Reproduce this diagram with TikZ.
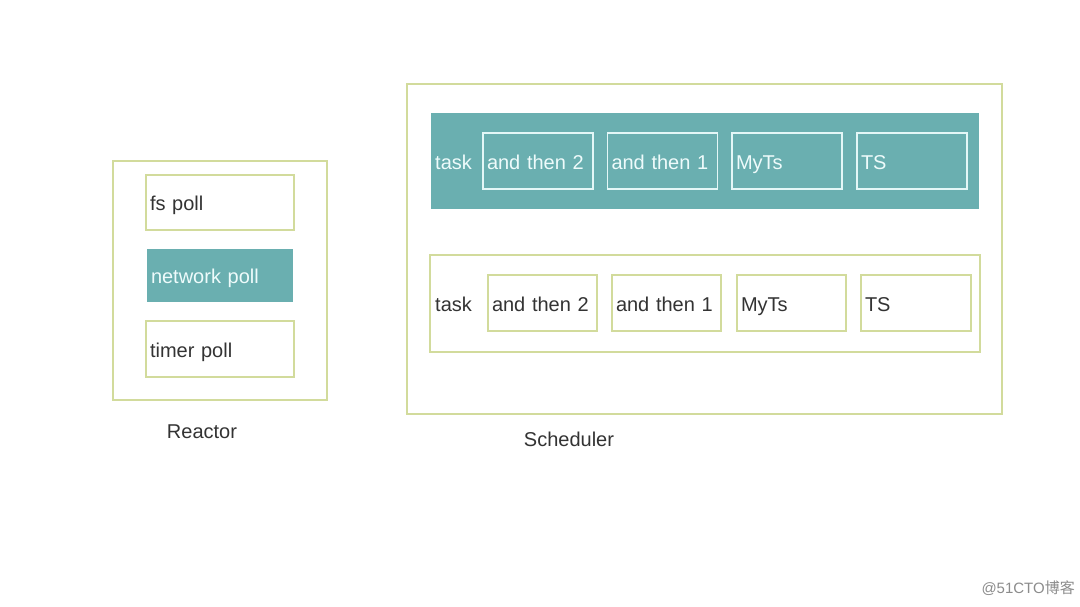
\documentclass[tikz,border=0pt]{standalone}
\usepackage{fontspec}
\setmainfont{Liberation Sans}
\newfontfamily\cjk{Noto Sans CJK SC}
\definecolor{teal1}{HTML}{6AAFB0}
\definecolor{olive1}{HTML}{D2DB9C}
\definecolor{txt}{HTML}{333333}
\definecolor{wtxt}{HTML}{EEFBFB}
\definecolor{wline}{HTML}{E4F7F7}
\begin{document}
\begin{tikzpicture}[x=1pt,y=-1pt,
  fnt/.style={font=\fontsize{20}{22}\selectfont,text height=18.5pt,text depth=2pt},
  frame/.style={draw=olive1,line width=1.4pt,fill=white,minimum width=#1},
  pbox/.style={draw=olive1,line width=1.4pt,fill=white,rectangle,inner xsep=4pt,inner ysep=0pt,
     text width=#1-8pt,minimum height=55pt,align=left,fnt,text=txt},
  tbox/.style={draw=wline,line width=1.4pt,rectangle,inner xsep=4pt,inner ysep=0pt,
     text width=#1-8pt,minimum height=56pt,align=left,fnt,text=wtxt},
  nbox/.style={fill=teal1,rectangle,inner xsep=4pt,inner ysep=0pt,
     text width=#1-8pt,minimum height=53pt,align=left,fnt,text=wtxt},
  lbl/.style={fnt,text=txt,inner sep=0pt}
]
\useasboundingbox[fill=white] (0,0) rectangle (1080,607);
% Reactor
\node[frame=214pt,minimum height=239pt] (reactor) at (220,280.5) {};
\node[pbox=148pt] (fs) at (220,202.5) {fs poll};
\node[nbox=146pt] (net) at (220,275.5) {network poll};
\node[pbox=148pt,minimum height=56pt] (timer) at (220,349) {timer poll};
\node[lbl] (rlabel) at (202,430) {Reactor};
% Scheduler
\node[frame=595pt,minimum height=330pt] (sched) at (704.5,249) {};
\node[fill=teal1,minimum width=548pt,minimum height=96pt,inner sep=0pt] (row1) at (705,161) {};
\node[lbl,text=wtxt,anchor=west] (task1) at (435,161) {task};
\node[tbox=110pt] (a2) at (538,161) {and then 2};
\node[tbox=110pt] (a1) at (662.5,161) {and then 1};
\node[tbox=110pt] (m1) at (787,161) {MyTs};
\node[tbox=110pt] (t1) at (912,161) {TS};
\node[draw=olive1,line width=1.4pt,minimum width=550pt,minimum height=97pt,inner sep=0pt] (row2) at (705,303.5) {};
\node[lbl,anchor=west] (task2) at (435,303) {task};
\node[pbox=109pt,minimum height=56pt] (b2) at (542.5,303) {and then 2};
\node[pbox=109pt,minimum height=56pt] (b1) at (666.5,303) {and then 1};
\node[pbox=109pt,minimum height=56pt] (m2) at (791.5,303) {MyTs};
\node[pbox=110pt,minimum height=56pt] (t2) at (916,303) {TS};
\node[lbl] (slabel) at (569,438) {Scheduler};
% watermark
\node[inner sep=0pt,anchor=east,text=black!45,font=\fontsize{15}{17}\selectfont] (wm) at (1075,588) {@51CTO{\cjk 博客}};
\end{tikzpicture}
\end{document}
